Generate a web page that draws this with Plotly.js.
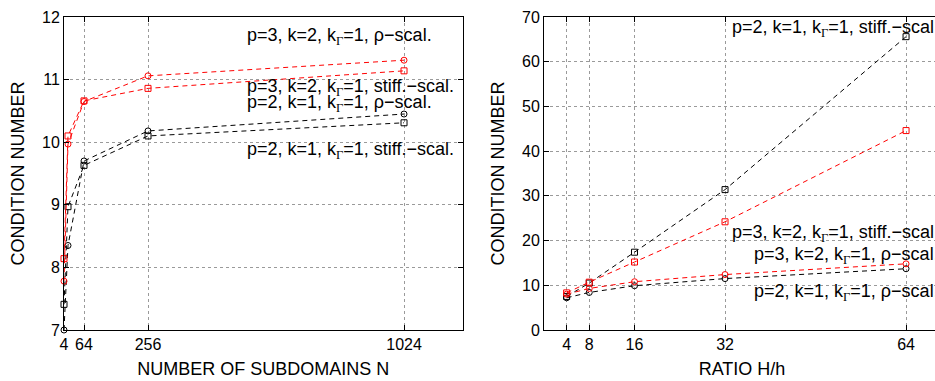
<!DOCTYPE html>
<html>
<head>
<meta charset="utf-8">
<script src="https://cdn.plot.ly/plotly-3.0.1.min.js"></script>
<style>html,body{margin:0;padding:0;overflow:hidden;background:#fff;}#chart{width:940px;height:381px;}</style>
</head>
<body>
<div id="chart"></div>
<script>
// ---- data: left panel (number of subdomains N) ----
const subdomainsN = [4, 16, 64, 256, 1024];
const left_p3_rho   = [7.78, 9.97, 10.65, 11.06, 11.31];
const left_p3_stiff = [8.14, 10.10, 10.66, 10.86, 11.14];
const left_p2_rho   = [7.00, 8.35, 9.70, 10.18, 10.45];
const left_p2_stiff = [7.41, 8.97, 9.63, 10.10, 10.31];
const leftXTicks = [4, 64, 256, 1024];
const leftYTicks = [7, 8, 9, 10, 11, 12];

// ---- data: right panel (ratio H/h) ----
const ratioHh = [4, 8, 16, 32, 64];
const right_p2_stiff = [7.5, 10.5, 17.4, 31.4, 65.6];
const right_p3_stiff = [8.3, 10.7, 15.2, 24.2, 44.6];
const right_p3_rho   = [8.0, 9.3, 10.8, 12.4, 14.8];
const right_p2_rho   = [7.2, 8.4, 9.9, 11.5, 13.7];
const rightXTicks = [4, 8, 16, 32, 64];
const rightYTicks = [0, 10, 20, 30, 40, 50, 60, 70];

const KG = 'k<sub><span style="font-family:Liberation Serif, serif">Γ</span></sub>';
const labP3rho = 'p=3, k=2, ' + KG + '=1, ρ−scal.';
const labP3stiff = 'p=3, k=2, ' + KG + '=1, stiff.−scal.';
const labP2rho = 'p=2, k=1, ' + KG + '=1, ρ−scal.';
const labP2stiff = 'p=2, k=1, ' + KG + '=1, stiff.−scal.';

const RED = '#ff0000', BLK = '#000000';
function tr(x, y, color, symbol, xa, ya, name) {
  return {x: x, y: y, xaxis: xa, yaxis: ya, name: name, type: 'scatter', mode: 'lines+markers',
    line: {color: color, width: 1, dash: '5px,4px'},
    marker: {symbol: symbol, size: 6, color: color, line: {color: color, width: 1}},
    showlegend: false, cliponaxis: false};
}
const data = [
  tr(subdomainsN, left_p2_rho, BLK, 'circle-open', 'x', 'y', 'p2 rho'),
  tr(subdomainsN, left_p2_stiff, BLK, 'square-open', 'x', 'y', 'p2 stiff'),
  tr(subdomainsN, left_p3_rho, RED, 'circle-open', 'x', 'y', 'p3 rho'),
  tr(subdomainsN, left_p3_stiff, RED, 'square-open', 'x', 'y', 'p3 stiff'),
  tr(ratioHh, right_p2_stiff, BLK, 'square-open', 'x2', 'y2', 'p2 stiff'),
  tr(ratioHh, right_p2_rho, BLK, 'circle-open', 'x2', 'y2', 'p2 rho'),
  tr(ratioHh, right_p3_stiff, RED, 'square-open', 'x2', 'y2', 'p3 stiff'),
  tr(ratioHh, right_p3_rho, RED, 'circle-open', 'x2', 'y2', 'p3 rho')
];

const W = 940, L = 64, T = 17, B = 51;
const PW = W - L, PH = 381 - T - B;
const px = v => (v - L) / PW;
const py = v => (T + PH - v) / PH;

const FONT = 'Liberation Sans, Arial, Helvetica, sans-serif';
function ax(extra) {
  return Object.assign({
    showline: true, linecolor: '#000', linewidth: 1, mirror: 'ticks',
    ticks: 'inside', ticklen: 5, tickcolor: '#000', tickwidth: 1,
    showgrid: true, gridcolor: '#9a9a9a', griddash: 'dot', gridwidth: 1,
    zeroline: false, tickfont: {family: FONT, size: 16, color: '#000'},
    fixedrange: true
  }, extra);
}
function ann(text, xp, yp) {
  return {text: text, xref: 'paper', yref: 'paper', x: px(xp), y: py(yp),
    xanchor: 'left', yanchor: 'middle', showarrow: false,
    font: {family: FONT, size: 18, color: '#000'}};
}
const TF = {family: FONT, size: 18, color: '#000'};

const layout = {
  width: W, height: 381,
  margin: {l: L, r: 0, t: T, b: B},
  paper_bgcolor: '#fff', plot_bgcolor: '#fff',
  font: {family: FONT, color: '#000'},
  xaxis: ax({domain: [0, px(462.7)], range: [4, 1200], tickvals: leftXTicks, ticktext: leftXTicks.map(String),
    title: {text: 'NUMBER OF SUBDOMAINS N', font: TF, standoff: 10}, anchor: 'y'}),
  yaxis: ax({domain: [0, 1], range: [7, 12], tickvals: leftYTicks,
    title: {text: 'CONDITION NUMBER', font: TF, standoff: 12}, anchor: 'x'}),
  xaxis2: ax({domain: [px(544), 1], range: [0, 70], tickvals: rightXTicks,
    title: {text: 'RATIO H/h', font: TF, standoff: 10}, anchor: 'y2'}),
  yaxis2: ax({domain: [0, 1], range: [0, 70], tickvals: rightYTicks,
    title: {text: 'CONDITION NUMBER', font: TF, standoff: 12}, anchor: 'x2'}),
  annotations: [
    ann(labP3rho, 245, 36),
    ann(labP3stiff, 245, 88),
    ann(labP2rho, 245, 104),
    ann(labP2stiff, 245, 150),
    ann('p=2, k=1, ' + KG + '=1, stiff.−scal.', 730, 28),
    ann('p=3, k=2, ' + KG + '=1, stiff.−scal.', 730, 233),
    ann('p=3, k=2, ' + KG + '=1, ρ−scal.', 752, 255),
    ann('p=2, k=1, ' + KG + '=1, ρ−scal.', 752, 292)
  ]
};

Plotly.newPlot('chart', data, layout, {displayModeBar: false, staticPlot: true});
</script>
</body>
</html>
